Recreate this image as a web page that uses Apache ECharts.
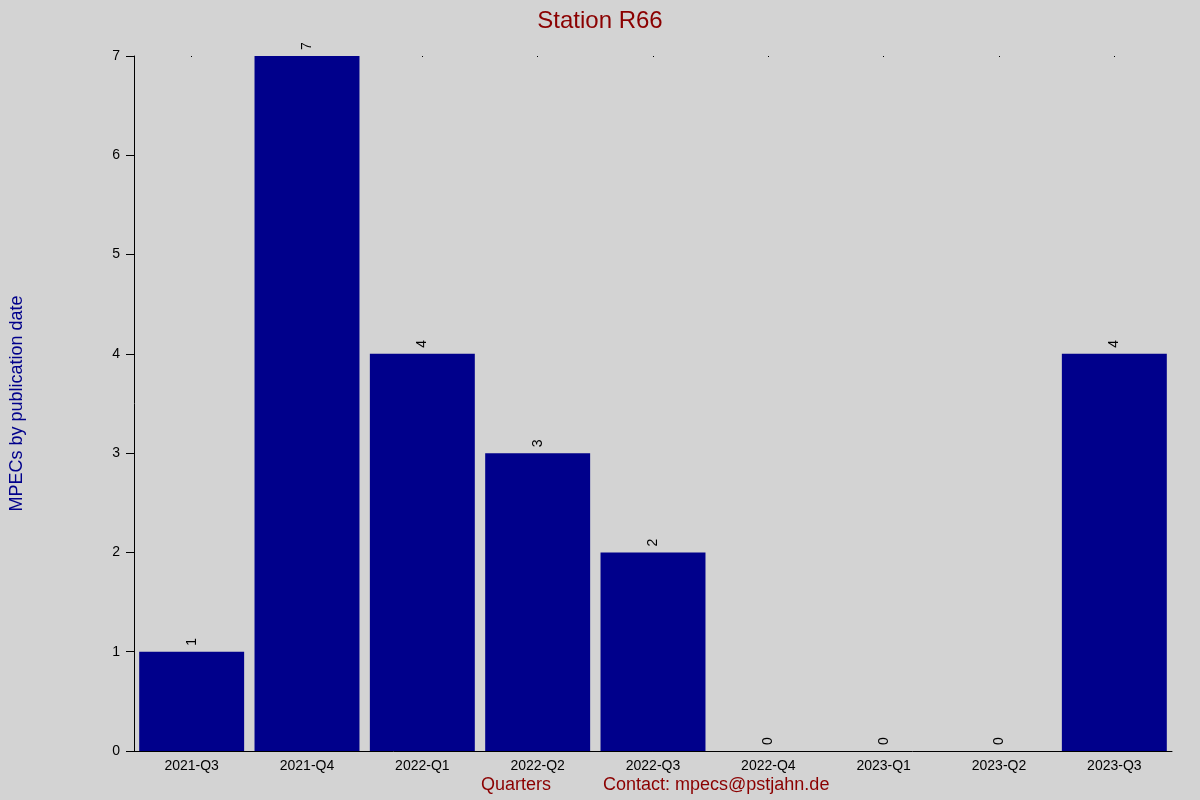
<!DOCTYPE html>
<html><head><meta charset="utf-8">
<script src="https://cdn.jsdelivr.net/npm/echarts@6/dist/echarts.min.js"></script>
<style>html,body{margin:0;padding:0;background:#d3d3d3}#c{width:1200px;height:800px}</style>
</head><body><div id="c"></div>
<script>
const categories = ['2021-Q3','2021-Q4','2022-Q1','2022-Q2','2022-Q3','2022-Q4','2023-Q1','2023-Q2','2023-Q3'];
const values = [1,7,4,3,2,0,0,0,4];
const yTicks = [0,1,2,3,4,5,6,7];
const chart = echarts.init(document.getElementById('c'));
const F = 'Liberation Sans, Arial, sans-serif';
chart.setOption({
  backgroundColor: '#d3d3d3',
  animation: false,
  title: {text: 'Station R66', left: 'center', top: 4, textStyle: {color: '#8b0000', fontSize: 24, fontWeight: 'normal', fontFamily: F}},
  graphic: [
    {type: 'text', left: 481, top: 776, style: {text: 'Quarters', fill: '#8b0000', font: '18px ' + F}},
    {type: 'text', left: 603, top: 776, style: {text: 'Contact: mpecs@pstjahn.de', fill: '#8b0000', font: '18px ' + F}}
  ],
  grid: {left: 126, right: 28, top: 56, bottom: 49},
  xAxis: [{
    type: 'category', data: categories,
    axisLine: {lineStyle: {color: '#000'}},
    axisTick: {show: false},
    axisLabel: {color: '#000', fontSize: 14, fontFamily: F, margin: 8}
  }, {
    type: 'category', data: categories, position: 'top',
    axisLine: {show: false},
    axisTick: {show: true, alignWithLabel: true, length: 1, inside: true, lineStyle: {color: '#000'}},
    axisLabel: {show: false}
  }],
  yAxis: {
    type: 'value', min: 0, max: 7, interval: 1,
    name: 'MPECs by publication date', nameLocation: 'middle', nameGap: 108,
    nameTextStyle: {color: '#00008b', fontSize: 18, fontFamily: F},
    axisLine: {show: true, lineStyle: {color: '#000'}},
    axisTick: {show: true, length: 8, lineStyle: {color: '#000'}},
    splitLine: {show: false},
    axisLabel: {color: '#000', fontSize: 14, fontFamily: F, margin: 14,
      formatter: v => yTicks.includes(v) ? String(v) : ''}
  },
  series: [{
    type: 'bar', data: values, barCategoryGap: '9%',
    itemStyle: {color: '#00008b'},
    label: {show: true, position: 'top', rotate: 90, align: 'left', verticalAlign: 'middle',
      distance: 6, color: '#000', fontSize: 14, fontFamily: F}
  }]
});
</script></body></html>
